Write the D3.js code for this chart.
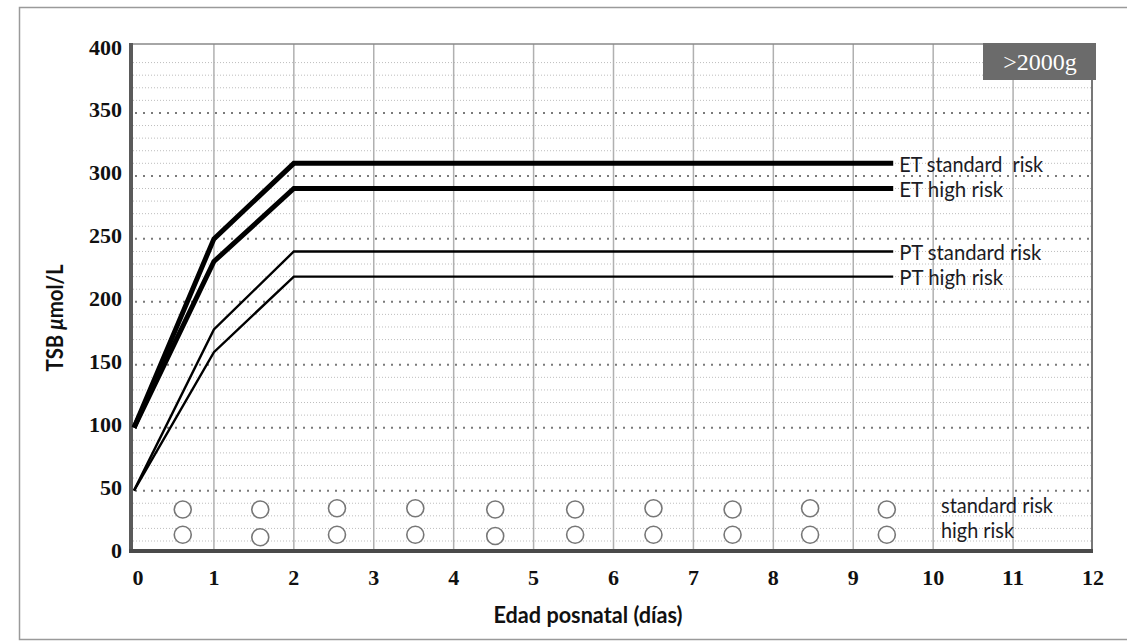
<!DOCTYPE html>
<html>
<head>
<meta charset="utf-8">
<script src="https://cdn.jsdelivr.net/npm/d3@7"></script>
<style>
  body { margin: 0; background: #fff; }
  svg { display: block; }
</style>
</head>
<body>
<div id="chart"></div>
<script>
/* Data */
const days = [0, 1, 2, 9.5];
const etStandard = [100, 250, 310, 310];
const etHigh = [100, 232, 290, 290];
const ptStandard = [50, 178, 240, 240];
const ptHigh = [50, 160, 220, 220];
const seriesNames = ["ET standard  risk", "ET high risk", "PT standard risk", "PT high risk"];

const circleDays = [0.61, 1.58, 2.54, 3.52, 4.52, 5.52, 6.5, 7.49, 8.46, 9.42];
const standardRow = [35, 35, 36, 36, 35, 35, 36, 35, 36, 35];
const highRow = [15, 13, 15, 15, 14, 15, 15, 15, 15, 15];
const rowNames = ["standard risk", "high risk"];

const xTicks = [0, 1, 2, 3, 4, 5, 6, 7, 8, 9, 10, 11, 12];
const yTicks = [0, 50, 100, 150, 200, 250, 300, 350, 400];
const weightLabel = ">2000g";

/* Layout */
const W = 1127, H = 641;
const plotLeft = 131, plotRight = 1092, plotTop = 44, plotBottom = 551;
const labelFont = "Lato, 'Open Sans', sans-serif";

const x = d3.scaleLinear().domain([0, 12]).range([134, 1093]);
const y = d3.scaleLinear().domain([0, 400]).range([553.6, 50]);

const svg = d3.select("#chart").append("svg")
    .attr("width", W)
    .attr("height", H);

/* outer frame */
svg.append("rect")
    .attr("x", 19.5).attr("y", 7.5)
    .attr("width", W + 10).attr("height", 632)
    .attr("fill", "#fff")
    .attr("stroke", "#9a9a9a")
    .attr("stroke-width", 1.5);

/* minor horizontal grid (every 10) */
const minor = d3.range(10, 400, 10).filter(v => v % 50 !== 0);
svg.append("g").selectAll("line")
    .data(minor)
    .join("line")
        .attr("x1", plotLeft + 2).attr("x2", plotRight)
        .attr("y1", d => y(d)).attr("y2", d => y(d))
        .attr("stroke", "#bdbdbd")
        .attr("stroke-width", 1)
        .attr("stroke-dasharray", "1,2");

/* major horizontal grid (every 50) */
svg.append("g").selectAll("line")
    .data(yTicks.filter(v => v > 0 && v < 400))
    .join("line")
        .attr("x1", plotLeft + 4).attr("x2", plotRight)
        .attr("y1", d => y(d)).attr("y2", d => y(d))
        .attr("stroke", "#7a7a7a")
        .attr("stroke-width", 2)
        .attr("stroke-dasharray", "2,6");

/* vertical grid */
svg.append("g").selectAll("line")
    .data(xTicks.filter(v => v > 0 && v < 12))
    .join("line")
        .attr("x1", d => x(d)).attr("x2", d => x(d))
        .attr("y1", plotTop).attr("y2", plotBottom)
        .attr("stroke", "#b0b0b0")
        .attr("stroke-width", 1.5);

/* plot frame */
svg.append("line")
    .attr("x1", plotLeft).attr("x2", plotRight)
    .attr("y1", plotTop).attr("y2", plotTop)
    .attr("stroke", "#888").attr("stroke-width", 1.5);
svg.append("line")
    .attr("x1", plotRight).attr("x2", plotRight)
    .attr("y1", plotTop).attr("y2", plotBottom)
    .attr("stroke", "#777").attr("stroke-width", 2);
svg.append("line")
    .attr("x1", plotLeft).attr("x2", plotLeft)
    .attr("y1", plotTop - 1).attr("y2", plotBottom + 2)
    .attr("stroke", "#5a5a5a").attr("stroke-width", 4);
svg.append("line")
    .attr("x1", plotLeft - 2).attr("x2", plotRight + 1)
    .attr("y1", plotBottom).attr("y2", plotBottom)
    .attr("stroke", "#4a4a4a").attr("stroke-width", 4);

/* weight box */
svg.append("rect")
    .attr("x", 983).attr("y", 43)
    .attr("width", 113).attr("height", 37)
    .attr("fill", "#6b6b6b");
svg.append("text")
    .attr("x", 1040).attr("y", 62)
    .attr("text-anchor", "middle")
    .attr("dominant-baseline", "central")
    .attr("font-family", "Liberation Serif, serif")
    .attr("font-size", 24)
    .attr("fill", "#fff")
    .text(weightLabel);

/* circles */
const circles = svg.append("g");
[standardRow, highRow].forEach(row => {
    circles.selectAll(null)
        .data(circleDays.map((d, i) => ({day: d, v: row[i]})))
        .join("circle")
            .attr("cx", d => x(d.day))
            .attr("cy", d => y(d.v))
            .attr("r", 8.5)
            .attr("fill", "#fff")
            .attr("stroke", "#777")
            .attr("stroke-width", 1.6);
});

/* row labels */
const rowWidths = [112, 73];
svg.append("g").selectAll("text")
    .data(rowNames)
    .join("text")
        .attr("x", 941)
        .attr("y", (d, i) => y([standardRow, highRow][i][9]) - 5)
        .attr("dominant-baseline", "central")
        .attr("font-family", labelFont)
        .attr("font-size", 21)
        .attr("fill", "#1b1b24")
        .attr("textLength", (d, i) => rowWidths[i])
        .attr("lengthAdjust", "spacingAndGlyphs")
        .text(d => d);

/* threshold lines */
const allSeries = [etStandard, etHigh, ptStandard, ptHigh];
const widths = [5, 5, 2.4, 2.4];
const labelWidths = [144, 104, 142, 104];
const line = d3.line()
    .x((d, i) => x(days[i]))
    .y(d => y(d));

svg.append("g").selectAll("path")
    .data(allSeries)
    .join("path")
        .attr("d", line)
        .attr("fill", "none")
        .attr("stroke", "#000")
        .attr("stroke-width", (d, i) => widths[i])
        .attr("stroke-linejoin", "miter");

svg.append("g").selectAll("text")
    .data(allSeries)
    .join("text")
        .attr("x", x(days[days.length - 1]) + 6)
        .attr("y", d => y(d[d.length - 1]))
        .attr("dominant-baseline", "central")
        .attr("font-family", labelFont)
        .attr("font-size", 21)
        .attr("fill", "#1b1b24")
        .attr("textLength", (d, i) => labelWidths[i])
        .attr("lengthAdjust", "spacingAndGlyphs")
        .style("white-space", "pre")
        .text((d, i) => seriesNames[i]);

/* tick labels */
svg.append("g").selectAll("text")
    .data(yTicks)
    .join("text")
        .attr("x", plotLeft - 9)
        .attr("y", d => y(d) - 3)
        .attr("text-anchor", "end")
        .attr("dominant-baseline", "central")
        .attr("font-family", "Liberation Serif, serif")
        .attr("font-weight", "bold")
        .attr("font-size", 22)
        .attr("fill", "#111")
        .attr("textLength", d => String(d).length * 11)
        .attr("lengthAdjust", "spacingAndGlyphs")
        .text(d => d);

svg.append("g").selectAll("text")
    .data(xTicks)
    .join("text")
        .attr("x", d => x(d) + (d === 0 ? 4 : 0))
        .attr("y", 577)
        .attr("text-anchor", "middle")
        .attr("dominant-baseline", "central")
        .attr("font-family", "Liberation Serif, serif")
        .attr("font-weight", "bold")
        .attr("font-size", 22)
        .attr("fill", "#111")
        .attr("textLength", d => String(d).length * 11)
        .attr("lengthAdjust", "spacingAndGlyphs")
        .text(d => d);

/* axis titles */
const yTitle = svg.append("text")
    .attr("transform", "translate(54,318) rotate(-90)")
    .attr("text-anchor", "middle")
    .attr("dominant-baseline", "central")
    .attr("font-family", labelFont)
    .attr("font-weight", "bold")
    .attr("font-size", 22)
    .attr("fill", "#111")
    .attr("textLength", 107)
    .attr("lengthAdjust", "spacingAndGlyphs");
yTitle.append("tspan").text("TSB ");
yTitle.append("tspan").attr("font-style", "italic").text("\u03bc");
yTitle.append("tspan").text("mol/L");

svg.append("text")
    .attr("x", 588).attr("y", 614)
    .attr("text-anchor", "middle")
    .attr("dominant-baseline", "central")
    .attr("font-family", labelFont)
    .attr("font-weight", "bold")
    .attr("font-size", 22)
    .attr("fill", "#111")
    .attr("textLength", 189)
    .attr("lengthAdjust", "spacingAndGlyphs")
    .text("Edad posnatal (días)");
</script>
</body>
</html>
